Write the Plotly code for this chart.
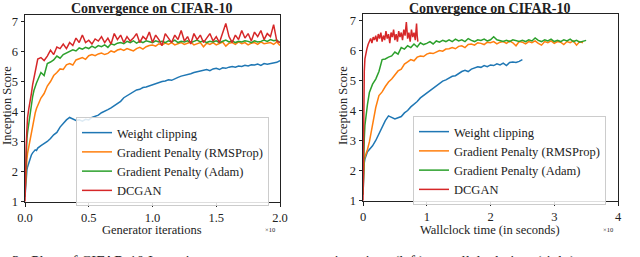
import plotly.graph_objects as go

# ---------------- data: left panel (generator iterations, thousands) ----------------
gen_iters_k = [0, 0.5, 1, 1.5, 2, 3, 4, 5, 6, 7, 8, 9, 10,
               12.5, 15, 17.5, 20, 22.5, 25, 27.5, 30, 32.5, 35, 37.5, 40,
               42.5, 45, 47.5, 50, 52.5, 55, 57.5, 60, 62.5, 65, 67.5, 70,
               72.5, 75, 77.5, 80, 82.5, 85, 87.5, 90, 92.5, 95, 97.5, 100,
               102.5, 105, 107.5, 110, 112.5, 115, 117.5, 120, 122.5, 125, 127.5, 130,
               132.5, 135, 137.5, 140, 142.5, 145, 147.5, 150, 152.5, 155, 157.5, 160,
               162.5, 165, 167.5, 170, 172.5, 175, 177.5, 180, 182.5, 185, 187.5, 190,
               192.5, 195, 197.5, 200]

wc_iter = [1.15, 1.6, 1.9, 2.05, 2.15, 2.3, 2.42, 2.55, 2.62, 2.68, 2.72, 2.7, 2.78,
           2.86, 2.92, 3.0, 3.1, 3.22, 3.3, 3.48, 3.6, 3.72, 3.8, 3.74, 3.7,
           3.72, 3.68, 3.74, 3.72, 3.8, 3.84, 3.88, 3.96, 4.0, 4.06, 4.12, 4.2,
           4.26, 4.34, 4.46, 4.52, 4.58, 4.66, 4.72, 4.74, 4.8, 4.82, 4.86, 4.9,
           4.92, 4.98, 5.0, 5.02, 5.06, 5.04, 5.1, 5.14, 5.18, 5.2, 5.24, 5.26,
           5.3, 5.32, 5.36, 5.38, 5.4, 5.36, 5.42, 5.44, 5.4, 5.46, 5.44, 5.48,
           5.5, 5.48, 5.52, 5.5, 5.54, 5.52, 5.56, 5.55, 5.58, 5.54, 5.6, 5.58,
           5.6, 5.62, 5.64, 5.7]

gp_rms_iter = [1.2, 1.8, 2.2, 2.4, 2.6, 2.85, 3.05, 3.35, 3.6, 3.8, 3.95, 4.1, 4.2,
               4.45, 4.6, 4.85, 5.0, 5.2, 5.3, 5.42, 5.4, 5.56, 5.6, 5.55, 5.72,
               5.76, 5.8, 5.74, 5.86, 5.9, 5.86, 5.92, 5.95, 5.9, 5.94, 6.02, 5.98,
               6.05, 6.08, 6.04, 6.1, 6.06, 6.02, 6.1, 6.14, 6.08, 6.16, 6.2, 6.22,
               6.18, 6.26, 6.22, 6.28, 6.24, 6.3, 6.22, 6.26, 6.3, 6.24, 6.28, 6.32,
               6.22, 6.26, 6.3, 6.16, 6.28, 6.24, 6.3, 6.22, 6.28, 6.32, 6.18, 6.28,
               6.3, 6.24, 6.32, 6.26, 6.3, 6.22, 6.28, 6.3, 6.24, 6.32, 6.26, 6.28,
               6.3, 6.24, 6.32, 6.2]

gp_adam_iter = [1.2, 2.2, 2.8, 3.1, 3.3, 3.6, 3.95, 4.3, 4.5, 4.7, 4.85, 4.95, 5.05,
                5.3, 5.2, 5.6, 5.65, 5.72, 5.85, 5.78, 5.9, 5.96, 6.0, 6.06, 6.02,
                6.12, 6.08, 6.14, 6.1, 6.18, 6.12, 6.2, 6.16, 6.22, 6.14, 6.26, 6.22,
                6.28, 6.3, 6.26, 6.34, 6.3, 6.36, 6.28, 6.34, 6.3, 6.36, 6.32, 6.3,
                6.36, 6.32, 6.34, 6.3, 6.36, 6.32, 6.38, 6.3, 6.34, 6.32, 6.36, 6.3,
                6.34, 6.38, 6.32, 6.36, 6.3, 6.34, 6.32, 6.36, 6.3, 6.34, 6.38, 6.32,
                6.36, 6.3, 6.34, 6.32, 6.36, 6.34, 6.3, 6.36, 6.32, 6.34, 6.38, 6.34,
                6.4, 6.36, 6.38, 6.3]

dcgan_iter = [1.0, 2.4, 2.9, 3.4, 3.8, 4.1, 4.3, 4.6, 4.9, 5.1, 5.3, 5.45, 5.75,
              5.8, 5.7, 5.85, 6.05, 5.9, 6.15, 6.1, 6.25, 6.1, 6.3, 6.2, 6.45,
              6.3, 6.55, 6.3, 6.38, 6.25, 6.42, 6.35, 6.5, 6.3, 6.45, 6.25, 6.6,
              6.4, 6.55, 6.3, 6.5, 6.35, 6.45, 6.6, 6.3, 6.5, 6.4, 6.65, 6.3,
              6.55, 6.4, 6.2, 6.6, 6.45, 6.3, 6.55, 6.4, 6.7, 6.35, 6.5, 6.25,
              6.6, 6.4, 6.55, 6.3, 6.45, 6.6, 6.35, 6.5, 6.3, 6.65, 6.94, 6.5,
              6.3, 6.55, 6.4, 6.7, 6.45, 6.6, 6.35, 6.65, 6.5, 6.7, 6.4, 6.6,
              6.5, 6.9, 6.35, 6.3]

# ---------------- data: right panel (wallclock time, x10^4 s) ----------------
wc_time = [0, 0.01, 0.02, 0.03, 0.05, 0.07, 0.1,
           0.15, 0.2, 0.25, 0.3, 0.35, 0.4, 0.45, 0.5, 0.55, 0.6, 0.65, 0.7,
           0.75, 0.8, 0.85, 0.9, 0.95, 1.0, 1.05, 1.1, 1.15, 1.2, 1.25, 1.3,
           1.35, 1.4, 1.45, 1.5, 1.55, 1.6, 1.65, 1.7, 1.75, 1.8, 1.85, 1.9,
           1.95, 2.0, 2.05, 2.1, 2.15, 2.2, 2.25, 2.3, 2.35, 2.4, 2.45, 2.5]
wc_score_t = [1.2, 2.0, 2.25, 2.38, 2.55, 2.62, 2.7,
              2.82, 3.0, 3.22, 3.48, 3.66, 3.82, 3.76, 3.72, 3.76, 3.8, 3.92, 4.0,
              4.12, 4.2, 4.3, 4.42, 4.5, 4.58, 4.64, 4.72, 4.8, 4.9, 4.98, 5.02,
              5.08, 5.14, 5.16, 5.24, 5.3, 5.34, 5.3, 5.38, 5.42, 5.46, 5.44, 5.5,
              5.46, 5.52, 5.5, 5.56, 5.52, 5.58, 5.5, 5.6, 5.62, 5.6, 5.64, 5.7]

gp_time = [0, 0.01, 0.02, 0.03, 0.05, 0.07, 0.1,
           0.15, 0.2, 0.25, 0.3, 0.35, 0.4, 0.45, 0.5, 0.55, 0.6, 0.65, 0.7,
           0.75, 0.8, 0.85, 0.9, 0.95, 1.0, 1.05, 1.1, 1.15, 1.2, 1.25, 1.3,
           1.35, 1.4, 1.45, 1.5, 1.55, 1.6, 1.65, 1.7, 1.75, 1.8, 1.85, 1.9,
           1.95, 2.0, 2.05, 2.1, 2.15, 2.2, 2.25, 2.3, 2.35, 2.4, 2.45, 2.5,
           2.55, 2.6, 2.65, 2.7, 2.75, 2.8, 2.85, 2.9, 2.95, 3.0, 3.05, 3.1,
           3.15, 3.2, 3.25, 3.3, 3.35, 3.4, 3.45, 3.5]
gp_rms_t = [1.2, 2.2, 2.35, 2.45, 2.55, 2.7, 2.95,
            3.6, 4.1, 4.5, 4.62, 4.8, 4.95, 5.05, 5.2, 5.32, 5.38, 5.55, 5.62,
            5.7, 5.66, 5.78, 5.82, 5.8, 5.88, 5.92, 5.9, 5.96, 6.0, 5.98, 6.05,
            6.06, 6.1, 6.06, 6.14, 6.16, 6.1, 6.2, 6.22, 6.18, 6.26, 6.24, 6.2,
            6.28, 6.26, 6.3, 6.22, 6.28, 6.3, 6.24, 6.32, 6.26, 6.16, 6.3, 6.28,
            6.22, 6.3, 6.26, 6.32, 6.24, 6.18, 6.3, 6.26, 6.32, 6.24, 6.3, 6.28,
            6.2, 6.3, 6.26, 6.32, 6.18, 6.3, 6.26]
gp_adam_t = [1.2, 2.6, 3.05, 3.5, 3.9, 4.2, 4.6,
             4.88, 5.05, 5.3, 5.7, 5.72, 5.78, 5.82, 5.95, 5.88, 6.1, 6.05, 6.16,
             6.1, 6.22, 6.12, 6.26, 6.2, 6.24, 6.3, 6.22, 6.32, 6.28, 6.34, 6.3,
             6.36, 6.3, 6.38, 6.32, 6.36, 6.3, 6.4, 6.34, 6.3, 6.36, 6.34, 6.38,
             6.32, 6.36, 6.46, 6.36, 6.32, 6.3, 6.34, 6.3, 6.36, 6.32, 6.3, 6.34,
             6.3, 6.36, 6.32, 6.42, 6.34, 6.3, 6.36, 6.32, 6.38, 6.3, 6.34, 6.3,
             6.36, 6.32, 6.38, 6.3, 6.34, 6.28, 6.32, 6.34]

dcgan_time = [0, 0.005, 0.01, 0.02, 0.03, 0.04, 0.06, 0.08, 0.10,
              0.12, 0.14, 0.16, 0.18, 0.20, 0.22, 0.24, 0.26, 0.28, 0.30,
              0.32, 0.34, 0.36, 0.38, 0.40, 0.42, 0.44, 0.46, 0.48, 0.50,
              0.52, 0.54, 0.56, 0.58, 0.60, 0.62, 0.64, 0.66, 0.68, 0.70,
              0.72, 0.74, 0.76, 0.78, 0.80, 0.82, 0.84, 0.85, 0.86]
dcgan_t = [1.0, 3.0, 4.6, 5.3, 5.72, 5.85, 6.05, 6.2, 6.3,
           6.4, 6.25, 6.45, 6.35, 6.5, 6.3, 6.55, 6.4, 6.6, 6.3,
           6.5, 6.35, 6.65, 6.4, 6.55, 6.25, 6.6, 6.45, 6.7, 6.35,
           6.55, 6.3, 6.65, 6.45, 6.6, 6.35, 6.7, 6.5, 6.95, 6.4,
           6.6, 6.3, 6.7, 6.45, 6.6, 6.35, 6.9, 6.5, 6.3]

names = ["Weight clipping", "Gradient Penalty (RMSProp)", "Gradient Penalty (Adam)", "DCGAN"]
colors = ["#1f77b4", "#ff7f0e", "#2ca02c", "#d62728"]

left_series = [wc_iter, gp_rms_iter, gp_adam_iter, dcgan_iter]
right_series = [(wc_time, wc_score_t), (gp_time, gp_rms_t), (gp_time, gp_adam_t), (dcgan_time, dcgan_t)]

FONT = "Liberation Serif"
W, H = 640, 257

fig = go.Figure()
x_left = [v / 100 for v in gen_iters_k]  # in units of 1e5 iterations
for name, col, ys in zip(names, colors, left_series):
    fig.add_trace(go.Scatter(x=x_left, y=ys, mode="lines", name=name,
                             line=dict(color=col, width=1.5),
                             xaxis="x", yaxis="y", legend="legend"))
for name, col, (xs, ys) in zip(names, colors, right_series):
    fig.add_trace(go.Scatter(x=xs, y=ys, mode="lines", name=name,
                             line=dict(color=col, width=1.5),
                             xaxis="x2", yaxis="y2", legend="legend2"))

def px_x(p):
    return p / W

def px_y(p):
    return 1 - p / H

axis_common = dict(showline=True, mirror=True, linecolor="#222", linewidth=1,
                   ticks="outside", ticklen=3.5, tickwidth=1, tickcolor="#222",
                   showgrid=False, zeroline=False, automargin=False,
                   tickfont=dict(family=FONT, size=12.5, color="#222"))

fig.update_layout(
    width=W, height=H, margin=dict(l=0, r=0, t=0, b=0, autoexpand=False),
    paper_bgcolor="white", plot_bgcolor="white",
    showlegend=True,
    xaxis=dict(domain=[px_x(25), px_x(280)], range=[0, 2.0], anchor="y",
               tickvals=[0, 0.5, 1.0, 1.5, 2.0], ticktext=["0.0", "0.5", "1.0", "1.5", "2.0"],
               **axis_common),
    yaxis=dict(domain=[px_y(202), px_y(15)], range=[0.98, 7.22], anchor="x",
               tickvals=[1, 2, 3, 4, 5, 6, 7], **axis_common),
    xaxis2=dict(domain=[px_x(363), px_x(618)], range=[0, 4.0], anchor="y2",
                tickvals=[0, 1, 2, 3, 4], **axis_common),
    yaxis2=dict(domain=[px_y(201), px_y(14)], range=[0.98, 7.22], anchor="x2",
                tickvals=[1, 2, 3, 4, 5, 6, 7], **axis_common),
    legend=dict(x=px_x(76), y=px_y(117), xanchor="left", yanchor="top",
                bgcolor="rgba(255,255,255,0.85)", bordercolor="#cccccc", borderwidth=1,
                font=dict(family=FONT, size=12.5, color="#222"), tracegroupgap=0),
    legend2=dict(x=px_x(413), y=px_y(116), xanchor="left", yanchor="top",
                 bgcolor="rgba(255,255,255,0.85)", bordercolor="#cccccc", borderwidth=1,
                 font=dict(family=FONT, size=12.5, color="#222"), tracegroupgap=0),
)

def label(text, x, y, angle=0, size=12.5, anchor="center"):
    return dict(text=text, x=px_x(x), y=px_y(y), xref="paper", yref="paper",
                xanchor=anchor, yanchor="middle", showarrow=False, textangle=angle,
                font=dict(family=FONT, size=size, color="#222"))

annos = [
    label("<b>Convergence on CIFAR-10</b>", 152, 8.5, size=14),
    label("<b>Convergence on CIFAR-10</b>", 490, 8.5, size=14),
    label("Generator iterations", 152, 230),
    label("Wallclock time (in seconds)", 490, 230),
    label("Inception Score", 7, 106, angle=-90),
    label("Inception Score", 343, 106, angle=-90),
    label("×10", 270, 229, size=6.5),
    label("×10", 608, 229, size=6.5),
    label("3:  Plots of CIFAR-10 Inception score over generator iterations (left) or wallclock time (right)",
          10, 261, size=15, anchor="left"),
]
fig.update_layout(annotations=annos)

fig.write_html("out.html", config={"displayModeBar": False},
               post_script="document.body.style.margin='0';document.body.style.padding='0';")
